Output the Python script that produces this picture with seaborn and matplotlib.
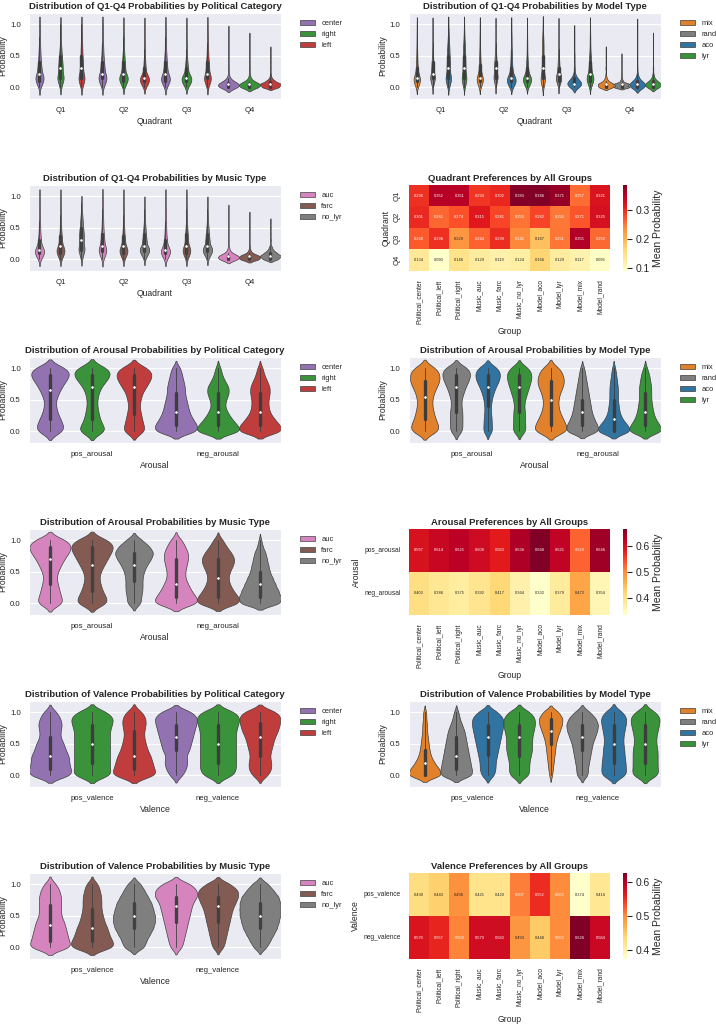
import numpy as np
import pandas as pd
import matplotlib
matplotlib.use('Agg')
import matplotlib.pyplot as plt
import seaborn as sns

# probability grids (values read as histograms off the reference violins)
grid_q = [0.0, 0.05, 0.1, 0.15, 0.2, 0.3, 0.4, 0.5, 0.6, 0.7, 0.8, 0.9, 1.0]
grid_ab = [0.0, 0.1, 0.2, 0.3, 0.4, 0.5, 0.6, 0.7, 0.8, 0.9, 1.0]

quadrants = ['Q1', 'Q2', 'Q3', 'Q4']
arousal_cats = ['pos_arousal', 'neg_arousal']
valence_cats = ['pos_valence', 'neg_valence']

political = ['center', 'right', 'left']
models = ['mix', 'rand', 'aco', 'lyr']
music = ['auc', 'farc', 'no_lyr']

pol_colors = {'center': '#9467bd', 'right': '#2ca02c', 'left': '#d62728'}
model_colors = {'mix': '#ff7f0e', 'rand': '#7f7f7f', 'aco': '#1f77b4', 'lyr': '#2ca02c'}
music_colors = {'auc': '#e377c2', 'farc': '#8c564b', 'no_lyr': '#7f7f7f'}

# counts per grid value, one list per quadrant (Q1..Q4)
q_political = {
    'center': [[3, 6, 11, 12, 10, 10, 7, 5, 4, 3, 2, 2, 2],
               [3, 5, 10, 12, 10, 10, 8, 5, 4, 3, 2, 2, 2],
               [3, 7, 12, 12, 9, 9, 6, 5, 3, 3, 2, 2, 1],
               [38, 40, 12, 4, 2, 2, 1, 1, 1, 1, 1, 1, 0]],
    'right': [[3, 4, 8, 10, 9, 12, 10, 7, 5, 3, 2, 2, 1],
              [3, 6, 12, 13, 10, 9, 7, 5, 3, 2, 2, 1, 1],
              [4, 9, 14, 14, 9, 8, 5, 3, 2, 2, 1, 1, 1],
              [40, 42, 12, 4, 2, 2, 1, 1, 1, 1, 1, 0, 0]],
    'left': [[3, 5, 10, 11, 9, 10, 8, 6, 5, 4, 3, 2, 1],
             [4, 10, 16, 14, 9, 7, 5, 3, 2, 2, 1, 1, 1],
             [3, 5, 11, 12, 10, 10, 8, 5, 4, 3, 2, 2, 1],
             [34, 42, 16, 4, 2, 1, 1, 1, 1, 0, 0, 0, 0]],
}
q_model = {
    'mix': [[4, 9, 15, 13, 9, 8, 5, 4, 3, 2, 2, 1, 1],
            [4, 8, 14, 13, 9, 8, 6, 4, 3, 2, 2, 1, 1],
            [3, 6, 10, 10, 8, 8, 7, 6, 6, 6, 4, 2, 1],
            [38, 40, 12, 4, 2, 2, 1, 1, 1, 0, 0, 0, 0]],
    'rand': [[2, 4, 10, 13, 11, 11, 8, 5, 3, 2, 2, 1, 1],
             [2, 3, 8, 11, 11, 13, 11, 7, 4, 2, 1, 1, 1],
             [2, 5, 12, 14, 12, 10, 7, 4, 2, 1, 1, 1, 1],
             [46, 44, 8, 3, 2, 1, 1, 1, 0, 0, 0, 0, 0]],
    'aco': [[3, 5, 9, 10, 8, 10, 9, 8, 7, 5, 3, 2, 1],
            [5, 12, 16, 13, 8, 7, 5, 4, 3, 2, 2, 1, 1],
            [16, 30, 18, 8, 4, 3, 2, 2, 1, 1, 1, 1, 0],
            [36, 40, 14, 5, 3, 2, 1, 1, 1, 1, 1, 1, 1]],
    'lyr': [[3, 5, 9, 10, 8, 10, 9, 8, 7, 5, 3, 2, 1],
            [4, 10, 16, 14, 9, 7, 5, 3, 2, 2, 1, 1, 1],
            [3, 7, 12, 13, 10, 9, 7, 5, 3, 2, 2, 1, 1],
            [32, 40, 16, 5, 3, 2, 1, 1, 1, 1, 1, 0, 0]],
}
q_music = {
    'auc': [[4, 9, 15, 13, 9, 8, 5, 4, 3, 2, 2, 1, 1],
            [3, 5, 11, 12, 10, 10, 7, 5, 4, 3, 2, 2, 1],
            [4, 9, 15, 13, 9, 8, 5, 4, 3, 2, 2, 1, 1],
            [42, 42, 10, 4, 2, 2, 1, 1, 1, 1, 1, 0, 0]],
    'farc': [[3, 7, 13, 13, 10, 9, 6, 4, 3, 2, 2, 1, 1],
             [3, 7, 13, 13, 10, 9, 6, 4, 3, 2, 2, 1, 1],
             [3, 6, 12, 13, 10, 9, 7, 5, 3, 2, 2, 1, 1],
             [46, 44, 10, 3, 2, 1, 1, 1, 1, 1, 0, 0, 0]],
    'no_lyr': [[2, 3, 6, 8, 9, 11, 11, 8, 6, 4, 2, 1, 0],
               [2, 5, 11, 13, 11, 10, 7, 5, 3, 2, 1, 1, 0],
               [2, 5, 11, 13, 11, 10, 7, 5, 3, 2, 1, 1, 0],
               [26, 36, 20, 8, 4, 2, 1, 1, 1, 0, 0, 0, 0]],
}

# counts per grid value, [pos, neg]
arousal_political = {
    'center': [[10, 9, 7, 5, 4, 4, 6, 8, 11, 14, 12], [15, 14, 11, 9, 8, 7, 6, 6, 5, 4, 3]],
    'right': [[12, 8, 6, 5, 4, 4, 5, 7, 11, 15, 13], [18, 14, 10, 7, 5, 6, 8, 8, 5, 3, 2]],
    'left': [[9, 7, 6, 5, 4, 5, 6, 9, 12, 14, 11], [17, 14, 10, 7, 6, 6, 7, 7, 5, 3, 2]],
}
arousal_model = {
    'mix': [[10, 9, 7, 6, 5, 5, 6, 8, 10, 10, 8], [12, 10, 8, 6, 5, 5, 6, 8, 9, 8, 6]],
    'rand': [[6, 6, 6, 6, 5, 5, 7, 9, 12, 14, 12], [16, 14, 11, 9, 8, 7, 6, 5, 4, 3, 2]],
    'aco': [[6, 5, 5, 4, 4, 5, 7, 10, 14, 16, 13], [22, 16, 10, 7, 6, 5, 5, 5, 4, 3, 2]],
    'lyr': [[7, 6, 6, 6, 5, 6, 8, 10, 12, 13, 10], [18, 14, 10, 8, 7, 6, 6, 6, 5, 4, 2]],
}
arousal_music = {
    'auc': [[9, 7, 6, 5, 4, 5, 7, 9, 12, 14, 11], [16, 13, 10, 8, 6, 6, 7, 8, 8, 6, 4]],
    'farc': [[10, 8, 6, 5, 4, 5, 7, 9, 11, 13, 10], [14, 12, 9, 7, 6, 7, 9, 10, 8, 5, 3]],
    'no_lyr': [[5, 5, 6, 6, 6, 7, 9, 12, 14, 11, 6], [15, 15, 13, 11, 9, 7, 6, 5, 4, 2, 1]],
}
valence_political = {
    'center': [[13, 12, 11, 11, 9, 8, 6, 6, 7, 6, 4], [4, 6, 7, 6, 8, 9, 10, 11, 12, 13, 10]],
    'right': [[10, 9, 9, 9, 9, 9, 9, 9, 10, 11, 8], [8, 9, 9, 9, 9, 9, 9, 9, 10, 11, 9]],
    'left': [[14, 12, 11, 10, 8, 7, 6, 6, 7, 7, 5], [5, 7, 7, 6, 7, 8, 9, 11, 12, 13, 11]],
}
valence_model = {
    'mix': [[22, 18, 12, 8, 6, 5, 4, 3, 3, 2, 2], [2, 3, 4, 5, 6, 7, 9, 12, 15, 16, 11]],
    'rand': [[14, 13, 12, 11, 10, 9, 8, 7, 5, 3, 2], [5, 5, 6, 7, 8, 9, 11, 13, 14, 12, 7]],
    'aco': [[5, 6, 6, 7, 8, 9, 10, 11, 12, 12, 8], [11, 10, 10, 9, 9, 8, 8, 9, 10, 11, 8]],
    'lyr': [[7, 7, 7, 8, 9, 9, 9, 10, 11, 11, 8], [10, 9, 9, 9, 9, 8, 8, 9, 10, 11, 8]],
}
valence_music = {
    'auc': [[14, 12, 11, 10, 9, 7, 7, 7, 7, 6, 4], [4, 5, 6, 7, 8, 9, 10, 11, 14, 14, 10]],
    'farc': [[15, 13, 11, 10, 8, 7, 6, 6, 6, 5, 4], [4, 5, 6, 7, 8, 9, 10, 12, 14, 14, 9]],
    'no_lyr': [[6, 7, 9, 11, 12, 12, 11, 10, 8, 6, 4], [4, 6, 8, 10, 11, 12, 12, 12, 11, 8, 5]],
}

# heatmap means
all_groups = ['Political_center', 'Political_left', 'Political_right', 'Music_auc', 'Music_farc',
              'Music_no_lyr', 'Model_aco', 'Model_lyr', 'Model_mix', 'Model_rand']
quad_q1 = [0.296, 0.352, 0.351, 0.293, 0.302, 0.383, 0.386, 0.371, 0.257, 0.321]
quad_q2 = [0.301, 0.261, 0.274, 0.315, 0.281, 0.253, 0.282, 0.250, 0.271, 0.325]
quad_q3 = [0.269, 0.296, 0.229, 0.264, 0.299, 0.241, 0.187, 0.251, 0.355, 0.259]
quad_q4 = [0.134, 0.090, 0.146, 0.129, 0.119, 0.124, 0.166, 0.129, 0.117, 0.095]
arousal_pos = [0.597, 0.614, 0.625, 0.608, 0.583, 0.636, 0.668, 0.621, 0.528, 0.646]
arousal_neg = [0.403, 0.386, 0.375, 0.392, 0.417, 0.364, 0.332, 0.379, 0.472, 0.354]
valence_pos = [0.430, 0.443, 0.496, 0.421, 0.420, 0.507, 0.552, 0.500, 0.374, 0.416]
valence_neg = [0.570, 0.557, 0.504, 0.579, 0.580, 0.493, 0.448, 0.500, 0.626, 0.584]

sns.set_style('darkgrid')
plt.rcParams['font.family'] = ['Liberation Sans', 'DejaVu Sans']
plt.rcParams['axes.titlesize'] = 6.8
plt.rcParams['axes.titleweight'] = 'bold'
plt.rcParams['axes.titlepad'] = 3
plt.rcParams['axes.labelsize'] = 6.2
plt.rcParams['axes.labelpad'] = 2
plt.rcParams['xtick.labelsize'] = 5.6
plt.rcParams['ytick.labelsize'] = 5.6
plt.rcParams['xtick.major.pad'] = 2.5
plt.rcParams['ytick.major.pad'] = 2.5
plt.rcParams['legend.fontsize'] = 5.4


def to_long(counts, cats, col, grid):
    frames = []
    for grp, per_cat in counts.items():
        for cat, c in zip(cats, per_cat):
            vals = np.repeat(grid, c)
            frames.append(pd.DataFrame({col: cat, 'group': grp, 'Probability': vals}))
    return pd.concat(frames, ignore_index=True)


def violin(ax, counts, cats, col, hue_order, colors, title, grid, bw):
    df = to_long(counts, cats, col, grid)
    sns.violinplot(data=df, x=col, y='Probability', hue='group', order=cats,
                   hue_order=hue_order, palette=colors, ax=ax, linewidth=0.5,
                   bw_method=bw, width=1.0,
                   inner_kws=dict(box_width=2.4, whis_width=0.6, marker='o', markersize=1.3))
    ax.set_title(title)
    ax.set_xlabel(col)
    ax.set_ylim(-0.19, 1.18)
    ax.set_yticks([0.0, 0.5, 1.0])
    ax.legend(bbox_to_anchor=(1.05, 1), loc='upper left', frameon=False)


def heat(ax, rows, row_names, ylabel, title, yrot, ysize):
    df = pd.DataFrame(rows, index=row_names, columns=all_groups)
    sns.heatmap(df, annot=True, fmt='.3f', cmap='YlOrRd', ax=ax,
                annot_kws={'size': 2.9}, cbar_kws={'label': 'Mean Probability'})
    ax.set_title(title)
    ax.set_xlabel('Group')
    ax.set_ylabel(ylabel)
    ax.tick_params(axis='x', labelsize=4.8, rotation=90)
    ax.tick_params(axis='y', labelsize=ysize, rotation=yrot)
    cb = ax.collections[0].colorbar
    cb.ax.tick_params(labelsize=7.4)
    cb.ax.yaxis.label.set_size(7.5)


fig, axes = plt.subplots(6, 2, figsize=(7.16, 10.28), dpi=100)
fig.subplots_adjust(left=0.0405, right=0.923, top=0.9874, bottom=0.0671, wspace=0.508, hspace=1.0)

violin(axes[0, 0], q_political, quadrants, 'Quadrant', political, pol_colors,
       'Distribution of Q1-Q4 Probabilities by Political Category', grid_q, 0.25)
violin(axes[0, 1], q_model, quadrants, 'Quadrant', models, model_colors,
       'Distribution of Q1-Q4 Probabilities by Model Type', grid_q, 0.25)
violin(axes[1, 0], q_music, quadrants, 'Quadrant', music, music_colors,
       'Distribution of Q1-Q4 Probabilities by Music Type', grid_q, 0.25)
heat(axes[1, 1], [quad_q1, quad_q2, quad_q3, quad_q4], quadrants, 'Quadrant',
     'Quadrant Preferences by All Groups', 90, 5.6)

violin(axes[2, 0], arousal_political, arousal_cats, 'Arousal', political, pol_colors,
       'Distribution of Arousal Probabilities by Political Category', grid_ab, 0.2)
violin(axes[2, 1], arousal_model, arousal_cats, 'Arousal', models, model_colors,
       'Distribution of Arousal Probabilities by Model Type', grid_ab, 0.2)
violin(axes[3, 0], arousal_music, arousal_cats, 'Arousal', music, music_colors,
       'Distribution of Arousal Probabilities by Music Type', grid_ab, 0.2)
heat(axes[3, 1], [arousal_pos, arousal_neg], arousal_cats, 'Arousal',
     'Arousal Preferences by All Groups', 0, 4.8)

violin(axes[4, 0], valence_political, valence_cats, 'Valence', political, pol_colors,
       'Distribution of Valence Probabilities by Political Category', grid_ab, 0.2)
violin(axes[4, 1], valence_model, valence_cats, 'Valence', models, model_colors,
       'Distribution of Valence Probabilities by Model Type', grid_ab, 0.2)
violin(axes[5, 0], valence_music, valence_cats, 'Valence', music, music_colors,
       'Distribution of Valence Probabilities by Music Type', grid_ab, 0.2)
heat(axes[5, 1], [valence_pos, valence_neg], valence_cats, 'Valence',
     'Valence Preferences by All Groups', 0, 4.8)

fig.savefig('out.png', dpi=100)
